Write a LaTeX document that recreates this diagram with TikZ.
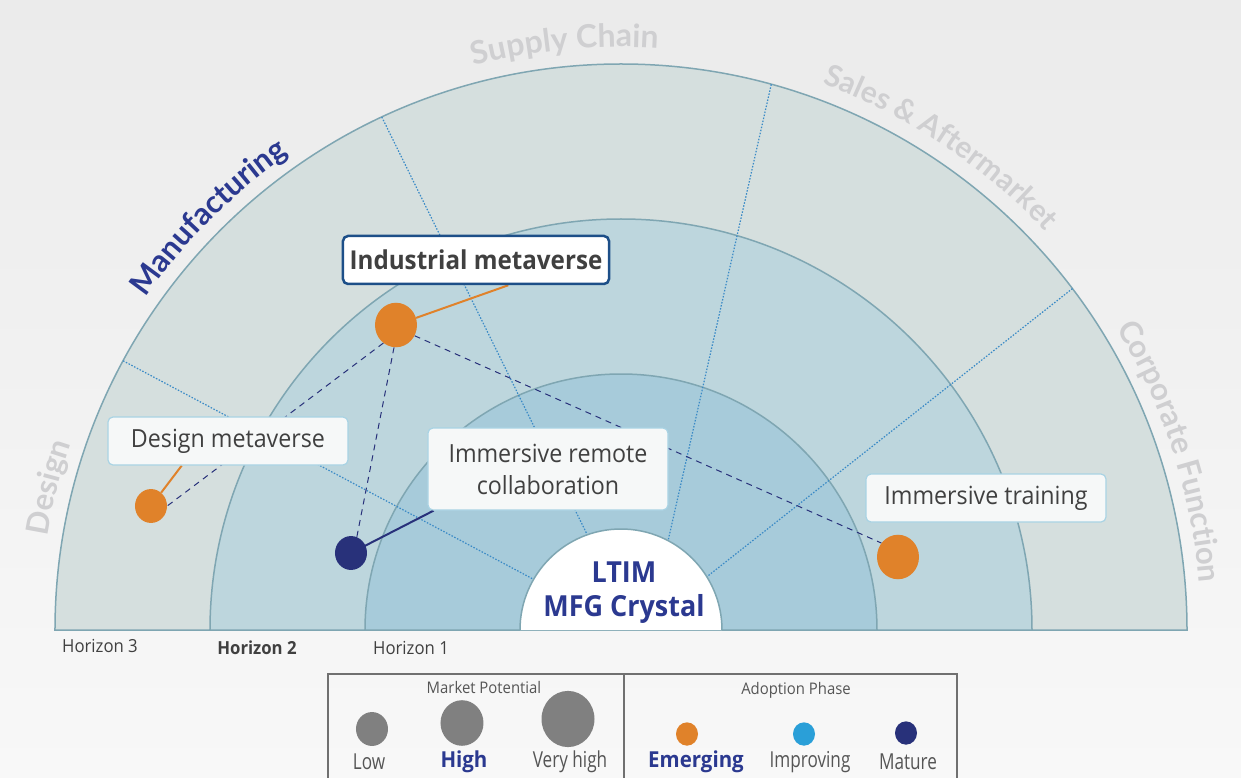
\documentclass[tikz,border=0pt]{standalone}
\usepackage{fontspec}
\setmainfont{Open Sans}[FakeStretch=0.93]
\newfontfamily\secfont{Lato}
\newfontfamily\legfont{Open Sans}[FakeStretch=0.78]
\newfontfamily\legbold{Open Sans}[FakeStretch=0.93]
\usepackage{tikz}
\usetikzlibrary{calc,positioning,shapes,decorations.text}

\definecolor{bgtop}{HTML}{EBEBEB}
\definecolor{bgbot}{HTML}{F8F8F8}
\definecolor{ringA}{HTML}{D5DFDE}
\definecolor{ringB}{HTML}{BDD6DD}
\definecolor{ringC}{HTML}{A7CBDA}
\definecolor{ringedge}{HTML}{7FA6B2}
\definecolor{sepblue}{HTML}{3A8AC6}
\definecolor{navy}{HTML}{28317A}
\definecolor{emerge}{HTML}{E0822A}
\definecolor{improve}{HTML}{2A9FD8}
\definecolor{secgray}{HTML}{CFCFD1}
\definecolor{txtgray}{HTML}{404040}
\definecolor{boxedge}{HTML}{A9D3E4}
\definecolor{boxfill}{HTML}{F6F8F8}
\definecolor{hiedge}{HTML}{1D4F88}
\definecolor{titleblue}{HTML}{2B3990}
\definecolor{potgray}{HTML}{808080}
\definecolor{leggray}{HTML}{555555}
\definecolor{legedge}{HTML}{707070}

\pgfdeclarelayer{back}
\pgfdeclarelayer{links}
\pgfsetlayers{back,links,main}

\begin{document}
\begin{tikzpicture}[x=1pt,y=1pt,
    ring/.style={draw=ringedge,line width=1.5pt},
    sep/.style={sepblue,line width=1.2pt,dash pattern=on 1.5pt off 1.6pt},
    tie/.style={navy,line width=1pt,dash pattern=on 6pt off 5pt},
    bub/.style={ellipse,inner sep=0pt,minimum width=#1,minimum height=1.06*#1},
    tagbox/.style={draw=boxedge,line width=1.2pt,fill=boxfill,rounded corners=5pt,text=txtgray,
      font=\fontsize{25}{32}\selectfont,align=center,minimum width=240pt,minimum height=48pt},
    hzlab/.style={text=txtgray,font=\fontsize{18}{18}\selectfont},
    leglab/.style={text=leggray,font=\legfont\fontsize{22}{22}\selectfont},
    legkey/.style={text=titleblue,font=\legbold\bfseries\fontsize{22}{22}\selectfont},
    sector/.style={decorate,decoration={text along path,text align=center,text={#1}}}]

  \useasboundingbox (-621,-147) rectangle (620,630);

  \begin{pgfonlayer}{back}
    \shade[top color=bgtop,bottom color=bgbot] (-621,-147) rectangle (620,630);
    \filldraw[ring,fill=ringA] (-566,0) arc[start angle=180,end angle=0,radius=566] -- cycle;
    \filldraw[ring,fill=ringB] (-411,0) arc[start angle=180,end angle=0,radius=411] -- cycle;
    \filldraw[ring,fill=ringC] (-256,0) arc[start angle=180,end angle=0,radius=256] -- cycle;
    \foreach \a/\b in {151.6/149.9,115/109.5,74.6/62.2,37.1/31.8}
      \draw[sep] (\a:566) -- (\b:101);
    \fill[white] (-101,0) arc[start angle=180,end angle=0,radius=101] -- cycle;
    \draw[ring] (-101,0) arc[start angle=180,end angle=0,radius=101];
  \end{pgfonlayer}

  \path[sector={|\secfont\bfseries\fontsize{31}{31}\selectfont\color{secgray}|Design}]
    (196:581) arc[start angle=196,end angle=136,radius=581];
  \path[sector={|\secfont\bfseries\fontsize{31}{31}\selectfont\color{titleblue}|Manufacturing}]
    (170:580) arc[start angle=170,end angle=100,radius=580];
  \path[sector={|\secfont\bfseries\fontsize{32}{32}\selectfont\color{secgray}|Supply Chain}]
    (130:583) arc[start angle=130,end angle=61,radius=583];
  \path[sector={|\secfont\bfseries\fontsize{30}{30}\selectfont\color{secgray}|Sales {\&} Aftermarket}]
    (95:582) arc[start angle=95,end angle=18,radius=582];
  \path[sector={|\secfont\bfseries\fontsize{31}{31}\selectfont\color{secgray}|Corporate Function}]
    (57:580) arc[start angle=57,end angle=-21,radius=580];

  \node[font=\bfseries\fontsize{29}{34}\selectfont,text=titleblue,align=center] (core) at (3,37) {LTIM\\MFG Crystal};

  \node[hzlab] (hz3) at (-521,-16) {Horizon 3};
  \node[hzlab,font=\bfseries\fontsize{18}{18}\selectfont] (hz2) at (-364,-18) {Horizon 2};
  \node[hzlab] (hz1) at (-210,-18) {Horizon 1};

  \node[tagbox,draw=hiedge,line width=2.5pt,fill=white,minimum width=266pt,font=\bfseries\fontsize{26}{32}\selectfont] (imBox) at (-145,370) {Industrial metaverse};
  \node[tagbox] (dmBox) at (-393,189) {Design metaverse};
  \node[tagbox,minimum height=82pt] (irBox) at (-73,161) {Immersive remote\\collaboration};
  \node[tagbox] (itBox) at (365,132) {Immersive training};

  \node[bub=42pt,fill=emerge] (indDot) at (-225,305) {};
  \node[bub=32pt,fill=emerge] (dmDot) at (-470,124) {};
  \node[bub=32pt,fill=navy] (irDot) at (-270,77) {};
  \node[bub=42pt,fill=emerge] (itDot) at (277,73) {};

  \begin{pgfonlayer}{links}
    \draw[emerge,line width=2pt] (indDot) -- (imBox.-38);
    \draw[emerge,line width=2pt] (dmDot) -- (dmBox.208);
    \draw[navy,line width=2pt] (irDot.center) -- (irBox.200.6);
    \draw[tie] (indDot.235) -- (dmDot.east);
    \draw[tie] (indDot.265) -- (irDot.70);
    \draw[tie] (indDot.-30) -- (itDot.140);
  \end{pgfonlayer}

  \draw[legedge,line width=1.3pt] (-293,-160) |- (336,-44) -- (336,-160);
  \draw[legedge,line width=1.3pt] (3,-44) -- (3,-160);
  \node[text=leggray,font=\fontsize{16}{16}\selectfont] (mpHead) at (-137,-57) {Market Potential};
  \node[text=leggray,font=\fontsize{16}{16}\selectfont] (apHead) at (175,-60) {Adoption Phase};

  \node[bub=32pt,fill=potgray] (lowDot) at (-249,-99) {};
  \node[bub=43pt,fill=potgray] (highDot) at (-159,-93) {};
  \node[bub=53pt,fill=potgray] (vhDot) at (-53,-89) {};
  \node[bub=22pt,fill=emerge] (emDot) at (66,-104) {};
  \node[bub=22pt,fill=improve] (imDot) at (183,-104) {};
  \node[bub=22pt,fill=navy] (maDot) at (285,-103) {};

  \node[leglab] (lowLab) at (-252,-132) {Low};
  \node[legkey] (highLab) at (-157,-132) {High};
  \node[leglab] (vhLab) at (-51,-132) {Very high};
  \node[legkey] (emLab) at (75,-132) {Emerging};
  \node[leglab] (imLab) at (189,-132) {Improving};
  \node[leglab] (maLab) at (287,-132) {Mature};
\end{tikzpicture}
\end{document}
